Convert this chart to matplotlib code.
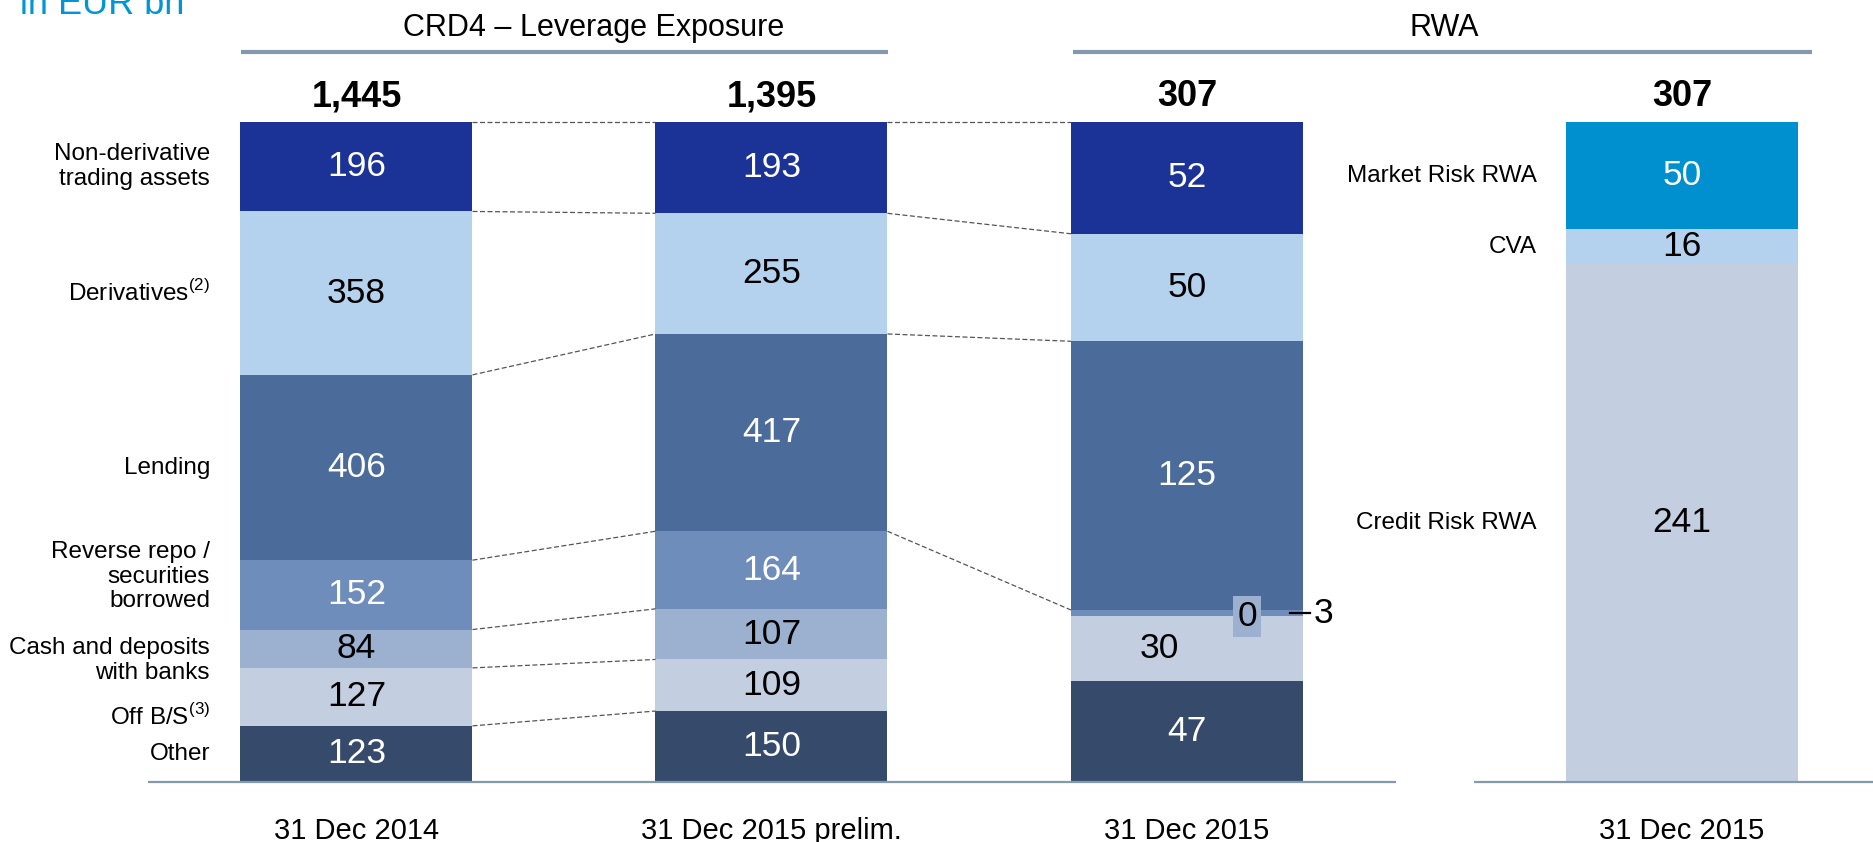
"""Leverage exposure vs RWA stacked bars (out.png)."""

import numpy as np
import matplotlib

matplotlib.use("Agg")
import matplotlib.pyplot as plt  # noqa: E402

plt.rcParams["font.family"] = ["Liberation Sans", "DejaVu Sans"]
plt.rcParams["mathtext.fontset"] = "custom"
plt.rcParams["mathtext.rm"] = "Liberation Sans"

# data, stacked bottom -> top
categories = ["Other", r"Off B/S$^{\rm (3)}$", "Cash and deposits\nwith banks",
              "Reverse repo /\nsecurities\nborrowed", "Lending",
              r"Derivatives$^{\rm (2)}$", "Non-derivative\ntrading assets"]
dates = ["31 Dec 2014", "31 Dec 2015 prelim.", "31 Dec 2015"]
lev_2014 = [123, 127, 84, 152, 406, 358, 196]
lev_2015_prelim = [150, 109, 107, 164, 417, 255, 193]
lev_2015 = [47, 30, 0, 3, 125, 50, 52]
lev_totals = ["1,445", "1,395", "307"]
rwa_labels = ["Credit Risk RWA", "CVA", "Market Risk RWA"]
rwa_2015 = [241, 16, 50]
rwa_total = "307"

LEV_COLORS = ["#364A6C", "#C3CEE1", "#9CB0CF", "#6E8DBA", "#4B6B9B", "#B4D2EE", "#1B3296"]
LEV_TEXT = ["white", "black", "black", "white", "white", "black", "white"]
RWA_COLORS = ["#C3CEE1", "#B4D2EE", "#0090D0"]
RWA_TEXT = ["black", "black", "white"]
RULE = "#8498AE"

# layout in pixels (y up)
Y0, H, W = 60, 660, 232
XS = [356.5, 771.5, 1187, 1682]

fig = plt.figure(figsize=(18.74, 8.42), dpi=100)
ax = fig.add_axes([0, 0, 1, 1])
ax.set_xlim(0, 1874)
ax.set_ylim(0, 842)
ax.axis("off")


def stack(x, vals, colors):
    vals = np.array(vals, dtype=float)
    h = vals / vals.sum() * H
    bottoms = Y0 + np.concatenate([[0], np.cumsum(h)[:-1]])
    ax.bar(x, h, W, bottom=bottoms, color=colors, linewidth=0)
    return bottoms, h


lev_series = [lev_2014, lev_2015_prelim, lev_2015]
geo = []
for i, vals in enumerate(lev_series):
    b, h = stack(XS[i], vals, LEV_COLORS)
    geo.append((b, h))
    for j, v in enumerate(vals):
        if i == 2 and j in (2, 3):
            continue  # tiny segments labelled separately
        dx = -28 if (i == 2 and j == 1) else 0
        ax.text(XS[i] + dx, b[j] + h[j] / 2, str(v), ha="center", va="center",
                fontsize=25.5, color=LEV_TEXT[j])
    ax.text(XS[i], 745, lev_totals[i], ha="center", va="center", fontsize=26, fontweight="bold")
    ax.text(XS[i], 3, dates[i], ha="center", va="baseline", fontsize=21)

# small segments of the 2015 bar
b3, h3 = geo[2]
ax.text(1247, b3[2], str(lev_2015[2]), ha="center", va="center", fontsize=25.5,
        bbox=dict(boxstyle="square,pad=0.12", fc=LEV_COLORS[2], ec="none"))
yr = b3[3] + h3[3] / 2
ax.plot([1290, 1310], [yr, yr], color="black", lw=1.6)
ax.text(1314, yr, str(lev_2015[3]), ha="left", va="center", fontsize=25.5)

# RWA bar
b4, h4 = stack(XS[3], rwa_2015, RWA_COLORS)
for j, v in enumerate(rwa_2015):
    ax.text(XS[3], b4[j] + h4[j] / 2, str(v), ha="center", va="center", fontsize=25.5, color=RWA_TEXT[j])
    ax.text(1537, b4[j] + h4[j] / 2, rwa_labels[j], ha="right", va="center", fontsize=17.5)
ax.text(XS[3], 745, rwa_total, ha="center", va="center", fontsize=26, fontweight="bold")
ax.text(XS[3], 3, "31 Dec 2015", ha="center", va="baseline", fontsize=21)

# category labels next to first bar
b1, h1 = geo[0]
nudge = [0, -20, -12, 18, 0, 0, 0]
for j, lab in enumerate(categories):
    ax.text(210, b1[j] + h1[j] / 2 + nudge[j], lab, ha="right", va="center", fontsize=17.5,
            linespacing=1.15)

# dashed connectors
for (a, c), idx in [((0, 1), range(0, 7)), ((1, 2), range(3, 7))]:
    ba, ha_ = geo[a]
    bc, hc = geo[c]
    for j in idx:
        ax.plot([XS[a] + W / 2, XS[c] - W / 2], [ba[j] + ha_[j], bc[j] + hc[j]],
                color="#555555", lw=0.9, ls=(0, (4, 2)))

# headers and rules
ax.plot([241, 888], [790, 790], color=RULE, lw=3, solid_capstyle="butt")
ax.plot([1073, 1812], [790, 790], color=RULE, lw=3, solid_capstyle="butt")
ax.text(594, 814, "CRD4 – Leverage Exposure", ha="center", va="center", fontsize=22)
ax.text(1444, 814, "RWA", ha="center", va="center", fontsize=22)
ax.plot([148, 1396], [Y0, Y0], color=RULE, lw=1.6, solid_capstyle="butt")
ax.plot([1474, 1874], [Y0, Y0], color=RULE, lw=1.6, solid_capstyle="butt")

ax.text(20, 828, "in EUR bn", ha="left", va="baseline", fontsize=26, color="#0096D6")

fig.savefig("out.png", dpi=100)
